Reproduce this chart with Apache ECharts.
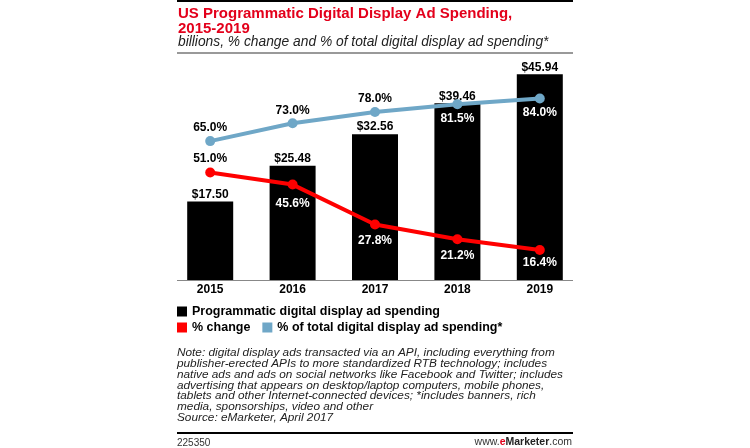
<!DOCTYPE html>
<html><head><meta charset="utf-8">
<script src="https://cdn.jsdelivr.net/npm/echarts@6/dist/echarts.min.js"></script>
<style>html,body{margin:0;padding:0;background:#fff}#c{width:750px;height:448px}</style>
</head><body><div id="c"></div>
<script>
const years = ['2015','2016','2017','2018','2019'];
const spending = [17.50, 25.48, 32.56, 39.46, 45.94];
const pctChange = [51.0, 45.6, 27.8, 21.2, 16.4];
const pctTotal = [65.0, 73.0, 78.0, 81.5, 84.0];
const noteLines = [
  'Note: digital display ads transacted via an API, including everything from',
  'publisher-erected APIs to more standardized RTB technology; includes',
  'native ads and ads on social networks like Facebook and Twitter; includes',
  'advertising that appears on desktop/laptop computers, mobile phones,',
  'tablets and other Internet-connected devices; *includes banners, rich',
  'media, sponsorships, video and other',
  'Source: eMarketer, April 2017'
];

// label placement (style only)
const totalLabelPos = ['top','top','top','bottom','bottom'];
const totalLabelDist = [2,2,2,4,3];
const changeLabelPos = ['top','bottom','bottom','bottom','bottom'];
const changeLabelDist = [3,8,5,5,2];

const RED = '#ff0000';
const BLUE = '#6fa7c7';
const FONT = '"Liberation Sans", Arial, sans-serif';

function lbl(pos, dist, fmt){
  return {show:true, position:pos, distance:dist, formatter:fmt,
    color: pos==='top' ? '#000' : '#fff', fontSize:12, fontWeight:'bold', fontFamily:FONT};
}

const chart = echarts.init(document.getElementById('c'));
chart.setOption({
  animation:false,
  textStyle:{fontFamily:FONT},
  title:{
    text:'US Programmatic Digital Display Ad Spending,\n2015-2019',
    subtext:'billions, % change and % of total digital display ad spending*',
    left:173, top:1, itemGap:-1,
    textStyle:{color:'#e3001b', fontSize:15, fontWeight:'bold', lineHeight:15, fontFamily:FONT},
    subtextStyle:{color:'#222', fontSize:13.8, fontStyle:'italic', fontFamily:FONT}
  },
  legend:[
    {data:['Programmatic digital display ad spending'], left:172, top:300, icon:'rect', itemWidth:10, itemHeight:10, itemGap:14,
     textStyle:{fontSize:12.5, fontWeight:'bold', color:'#000', fontFamily:FONT, padding:[0,0,0,0]}},
    {data:['% change','% of total digital display ad spending*'], left:172, top:316, icon:'rect', itemWidth:10, itemHeight:10, itemGap:12,
     textStyle:{fontSize:12.5, fontWeight:'bold', color:'#000', fontFamily:FONT, padding:[0,0,0,0]}}
  ],
  grid:{left:169, width:412, top:56, bottom:168},
  xAxis:{type:'category', data:years, axisLine:{show:false}, axisTick:{show:false},
    axisLabel:{color:'#000', fontSize:12, fontWeight:'bold', margin:4, fontFamily:FONT}},
  yAxis:[
    {type:'value', min:0, max:50, show:false, splitLine:{show:false}},
    {type:'value', min:3, max:103, show:false, splitLine:{show:false}}
  ],
  series:[
    {name:'Programmatic digital display ad spending', type:'bar', barWidth:46, itemStyle:{color:'#000'},
     data:spending, z:1,
     label:{show:true, position:'top', distance:1, color:'#000', fontSize:12, fontWeight:'bold', fontFamily:FONT,
       formatter:p=>'$'+p.value.toFixed(2)}},
    {name:'% change', type:'line', yAxisIndex:1, symbol:'circle', symbolSize:10, z:3,
     lineStyle:{color:RED, width:4}, itemStyle:{color:RED},
     data:pctChange.map((v,i)=>({value:v, label:lbl(changeLabelPos[i], changeLabelDist[i], p=>p.value.toFixed(1)+'%')}))},
    {name:'% of total digital display ad spending*', type:'line', yAxisIndex:1, symbol:'circle', symbolSize:10, z:3,
     lineStyle:{color:BLUE, width:4}, itemStyle:{color:BLUE},
     data:pctTotal.map((v,i)=>({value:v, label:lbl(totalLabelPos[i], totalLabelDist[i], p=>p.value.toFixed(1)+'%')}))}
  ],
  graphic:[
    {type:'rect', shape:{x:177, y:0, width:396, height:2}, style:{fill:'#000'}},
    {type:'rect', shape:{x:177, y:52, width:396, height:2}, style:{fill:'#999'}},
    {type:'line', shape:{x1:177, y1:280.5, x2:573, y2:280.5}, style:{stroke:'#888', lineWidth:1}},
    {type:'text', left:177, top:347, style:{text:noteLines.join('\n'), fill:'#222', font:'italic 11.8px "Liberation Sans", Arial, sans-serif', lineHeight:10.8}},
    {type:'rect', shape:{x:177, y:432, width:396, height:2}, style:{fill:'#000'}},
    {type:'text', left:177, top:438, style:{text:'225350', fill:'#333', font:'10px "Liberation Sans", Arial, sans-serif'}},
    {type:'text', right:178, top:437, style:{
      text:'{a|www.}{b|e}{c|Marketer}{a|.com}',
      rich:{a:{fill:'#333', fontSize:10.5, fontFamily:FONT},
            b:{fill:'#e3001b', fontSize:10.5, fontWeight:'bold', fontFamily:FONT},
            c:{fill:'#222', fontSize:10.5, fontWeight:'bold', fontFamily:FONT}}}}
  ]
});
</script></body></html>
